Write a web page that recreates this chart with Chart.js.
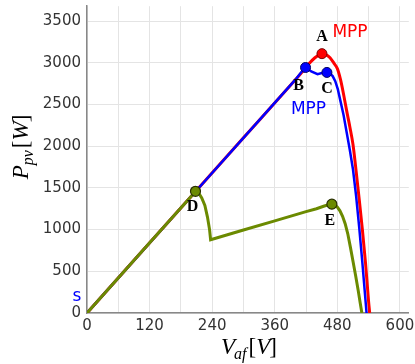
<!DOCTYPE html>
<html>
<head>
<meta charset="utf-8">
<script src="https://cdn.jsdelivr.net/npm/chart.js@4"></script>
<style>
  html, body { margin: 0; padding: 0; background: #fff; }
  #wrap { width: 415px; height: 364px; }
</style>
</head>
<body>
<div id="wrap"><canvas id="pv" width="415" height="364"></canvas></div>
<script>
// PV curves (voltage V, power W)
const voltRed  = [0, 100, 200, 300, 400, 412, 425, 437, 445, 450.5, 458, 466, 474, 480, 486, 492, 498, 504, 510, 516, 522, 528, 534, 540, 542];
const powerRed = [0, 700, 1400, 2100, 2800, 2885, 2985, 3060, 3095, 3109, 3098, 3060, 2990, 2930, 2800, 2620, 2420, 2230, 2020, 1700, 1360, 1000, 600, 130, 0];

const voltBlue  = [0, 100, 200, 300, 400, 410, 419, 430, 442, 452, 460, 466, 471, 476, 481, 486, 492, 498, 504, 510, 516, 522, 528, 534, 536];
const powerBlue = [0, 700, 1400, 2100, 2800, 2880, 2943, 2895, 2864, 2880, 2884, 2870, 2840, 2780, 2680, 2540, 2370, 2160, 1950, 1720, 1400, 1020, 600, 150, 0];

const voltGreen  = [0, 100, 200, 208, 214, 220, 226, 231, 235, 237, 300, 360, 420, 440, 455, 463, 469.5, 475, 480, 485, 490, 495, 500, 505, 510, 515, 520, 524, 527];
const powerGreen = [0, 700, 1400, 1459, 1440, 1380, 1290, 1150, 1000, 879, 995, 1105, 1215, 1250, 1283, 1298, 1305, 1295, 1270, 1225, 1160, 1070, 950, 790, 620, 450, 270, 113, 0];

// marked points
const pointNames = ['A', 'B', 'C', 'D', 'E'];
const pointVolt  = [450.5, 419, 460, 208, 469.5];
const pointPower = [3109, 2943, 2884, 1459, 1305];

const xGrid  = [0, 60, 120, 180, 240, 300, 360, 420, 480, 540, 600];
const xTicks = [0, 120, 240, 360, 480, 600];
const yTicks = [0, 500, 1000, 1500, 2000, 2500, 3000, 3500];

const toXY = (xs, ys) => xs.map((x, i) => ({ x: x, y: ys[i] }));
const pt = i => [{ x: pointVolt[i], y: pointPower[i] }];

const RED = '#ff0000', BLUE = '#0000ff', GREEN = '#6b8a00';

// text labels and axis titles drawn on the canvas
const labelsPlugin = {
  id: 'labels',
  afterDraw(chart) {
    const ctx = chart.ctx;
    const xs = chart.scales.x, ys = chart.scales.y;
    const px = i => xs.getPixelForValue(pointVolt[i]);
    const py = i => ys.getPixelForValue(pointPower[i]);
    ctx.save();
    ctx.textAlign = 'center';
    ctx.textBaseline = 'middle';

    // point letters
    ctx.fillStyle = '#000';
    ctx.font = 'bold 16px "Liberation Serif", serif';
    const offs = [[0, -17], [-7, 18], [0, 16], [-3, 16], [-2, 17]];
    pointNames.forEach((n, i) => {
      ctx.fillText(n, px(i) + offs[i][0], py(i) + offs[i][1]);
    });

    ctx.font = '17px "DejaVu Sans", sans-serif';
    ctx.fillStyle = RED;
    ctx.fillText('MPP', px(0) + 28, py(0) - 21);
    ctx.fillStyle = BLUE;
    ctx.fillText('MPP', px(1) + 3, py(1) + 42);
    ctx.fillText('s', xs.getPixelForValue(0) - 10, ys.getPixelForValue(0) - 16);

    // axis titles, math style
    ctx.fillStyle = '#000';
    ctx.textAlign = 'left';
    ctx.textBaseline = 'alphabetic';
    const big = '23px "Liberation Serif", serif';
    const bigI = 'italic 23px "Liberation Serif", serif';
    const smallI = 'italic 16px "Liberation Serif", serif';
    const widthOf = parts => {
      let w = 0;
      parts.forEach(p => { ctx.font = p[1]; w += ctx.measureText(p[0]).width + (p[3] || 0); });
      return w;
    };
    const drawParts = (parts, x0, y0) => {
      let x = x0;
      parts.forEach(p => {
        ctx.font = p[1];
        ctx.fillText(p[0], x, y0 + p[2]);
        x += ctx.measureText(p[0]).width + (p[3] || 0);
      });
    };
    const xParts = [['V', bigI, 0, -1], ['af', smallI, 5, 2], ['[', big, 0], ['V', bigI, 0, -1], [']', big, 0]];
    drawParts(xParts, 249 - widthOf(xParts) / 2, 354);

    const yParts = [['P', bigI, 0, 0], ['pv', smallI, 5, 2], ['[', big, 0], ['W', bigI, 0, -1], [']', big, 0]];
    ctx.translate(28, 147);
    ctx.rotate(-Math.PI / 2);
    drawParts(yParts, -widthOf(yParts) / 2, 0);
    ctx.restore();
  }
};

const tickFont = { family: '"DejaVu Sans", sans-serif', size: 15 };

new Chart(document.getElementById('pv'), {
  type: 'scatter',
  data: {
    datasets: [
      { data: pt(0), showLine: false, pointRadius: 5, backgroundColor: RED, borderColor: '#7a0000', borderWidth: 1 },
      { data: pt(1), showLine: false, pointRadius: 5, backgroundColor: BLUE, borderColor: '#000060', borderWidth: 1 },
      { data: pt(2), showLine: false, pointRadius: 5, backgroundColor: BLUE, borderColor: '#000060', borderWidth: 1 },
      { data: pt(3), showLine: false, pointRadius: 5, backgroundColor: GREEN, borderColor: '#2a3000', borderWidth: 1.2 },
      { data: pt(4), showLine: false, pointRadius: 5, backgroundColor: GREEN, borderColor: '#2a3000', borderWidth: 1.2 },
      { data: toXY(voltGreen, powerGreen), showLine: true, borderColor: GREEN, borderWidth: 3, pointRadius: 0, tension: 0 },
      { data: toXY(voltBlue, powerBlue), showLine: true, borderColor: BLUE, borderWidth: 2.5, pointRadius: 0, tension: 0 },
      { data: toXY(voltRed, powerRed), showLine: true, borderColor: RED, borderWidth: 3, pointRadius: 0, cubicInterpolationMode: 'monotone' }
    ]
  },
  options: {
    responsive: false,
    animation: false,
    layout: { padding: { top: 2, right: 3, left: 0, bottom: 0 } },
    plugins: { legend: { display: false }, tooltip: { enabled: false } },
    scales: {
      x: {
        type: 'linear',
        min: 0,
        max: 617,
        afterBuildTicks: s => { s.ticks = xGrid.map(v => ({ value: v })); },
        afterFit: s => { s.height = 51; s.paddingLeft = 0; s.paddingRight = 0; },
        ticks: {
          autoSkip: false,
          maxRotation: 0,
          padding: 4,
          color: '#333',
          font: tickFont,
          callback: v => (xTicks.includes(v) ? String(v) : '')
        },
        grid: { color: '#e4e4e4', lineWidth: 1, drawTicks: false },
        border: { color: '#888', width: 1.5 }
      },
      y: {
        type: 'linear',
        min: 0,
        max: 3678,
        afterBuildTicks: s => { s.ticks = yTicks.map(v => ({ value: v })); },
        afterFit: s => { s.width = 87; s.paddingTop = 0; s.paddingBottom = 0; },
        ticks: {
          autoSkip: false,
          padding: 6,
          color: '#333',
          font: tickFont,
          callback: v => String(v)
        },
        grid: { color: '#e4e4e4', lineWidth: 1, drawTicks: false },
        border: { color: '#888', width: 1.5 }
      }
    }
  },
  plugins: [labelsPlugin]
});
</script>
</body>
</html>
